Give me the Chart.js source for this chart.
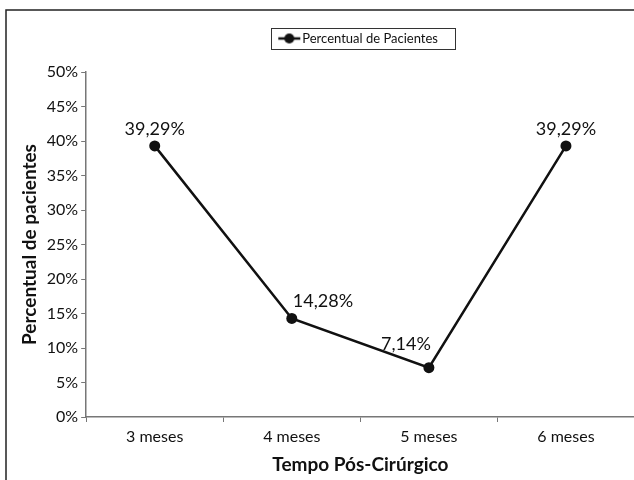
<!DOCTYPE html>
<html>
<head>
<meta charset="utf-8">
<script src="https://cdn.jsdelivr.net/npm/chart.js@4.4.1/dist/chart.umd.min.js"></script>
<style>
    html, body { margin: 0; background: #fff; overflow: hidden; }
    #wrap { position: absolute; left: 0; top: 0; width: 634px; height: 480px; overflow: hidden; }
</style>
</head>
<body>
<div id="wrap"><canvas id="myChart" width="640" height="480"></canvas></div>
<script>
const categories = ['3 meses', '4 meses', '5 meses', '6 meses'];
const percentValues = [39.29, 14.28, 7.14, 39.29];
const seriesName = 'Percentual de Pacientes';
const labelAlign = ['center', 'left', 'right', 'center']; // where the value labels sit

const FONT = 'Lato, "Open Sans", sans-serif';

// legend marker: short line with a dot in the middle
function legendMarker() {
    const c = document.createElement('canvas');
    c.width = 24; c.height = 12;
    const g = c.getContext('2d');
    g.strokeStyle = '#111';
    g.lineWidth = 2.5;
    g.beginPath(); g.moveTo(1, 6); g.lineTo(23, 6); g.stroke();
    g.fillStyle = '#111';
    g.beginPath(); g.arc(12, 6, 5, 0, Math.PI * 2); g.fill();
    return c;
}

const frame = {
    id: 'frame',
    beforeLayout(chart) {
        // extra room under the legend
        const lg = chart.legend;
        if (lg && !lg._gapPatched) {
            const fit = lg.fit;
            lg.fit = function() {
                fit.call(this);
                this.height += 17;
            };
            lg._gapPatched = true;
        }
    },
    beforeDraw(chart) {
        const ctx = chart.ctx;
        ctx.save();
        ctx.strokeStyle = '#222';
        ctx.lineWidth = 1.5;
        ctx.beginPath();
        ctx.moveTo(6, 480); ctx.lineTo(6, 10); ctx.lineTo(640, 10);
        ctx.stroke();
        ctx.restore();
    },
    afterDraw(chart) {
        // box around the legend
        const lg = chart.legend;
        if (!lg || !lg.legendHitBoxes.length) return;
        const hb = lg.legendHitBoxes[0];
        const ctx = chart.ctx;
        ctx.save();
        ctx.strokeStyle = '#333';
        ctx.lineWidth = 1;
        ctx.strokeRect(Math.round(hb.left - 12) + 0.5, Math.round(hb.top - 4) + 0.5, Math.round(hb.width + 29), Math.round(hb.height + 8));
        ctx.restore();
    }
};

const valueLabels = {
    id: 'valueLabels',
    afterDatasetsDraw(chart) {
        const ctx = chart.ctx;
        const meta = chart.getDatasetMeta(0);
        ctx.save();
        ctx.font = '18px ' + FONT;
        ctx.fillStyle = '#111';
        ctx.textBaseline = 'bottom';
        meta.data.forEach((pt, i) => {
            const txt = percentValues[i].toFixed(2).replace('.', ',') + '%';
            const a = labelAlign[i];
            let x = pt.x, y = pt.y - 8;
            if (a === 'left') x = pt.x + 1;
            if (a === 'right') { x = pt.x + 2; y = pt.y - 15; }
            ctx.textAlign = a;
            ctx.fillText(txt, x, y);
        });
        ctx.restore();
    }
};

window.myChart = new Chart(document.getElementById('myChart').getContext('2d'), {
    type: 'line',
    data: {
        labels: categories,
        datasets: [{
            label: seriesName,
            data: percentValues,
            borderColor: '#111',
            backgroundColor: '#111',
            borderWidth: 2.5,
            pointRadius: 5.5,
            pointBackgroundColor: '#111',
            pointBorderWidth: 0,
            pointStyle: 'circle',
            tension: 0,
            fill: false
        }]
    },
    options: {
        responsive: false,
        animation: false,
        layout: {
            padding: { left: 18, right: 0, top: 18, bottom: 4 }
        },
        plugins: {
            legend: {
                position: 'top',
                fullSize: false,
                labels: {
                    usePointStyle: true,
                    pointStyle: legendMarker(),
                    color: '#111',
                    font: { family: FONT, size: 13 },
                    padding: 14
                }
            },
            tooltip: { enabled: false }
        },
        scales: {
            x: {
                offset: true,
                grid: {
                    offset: true,
                    drawOnChartArea: false,
                    color: '#777',
                    tickLength: 5
                },
                border: { color: '#777', width: 1.5 },
                ticks: {
                    color: '#111',
                    font: { family: FONT, size: 16 },
                    padding: 5,
                    maxRotation: 0
                },
                title: {
                    display: true,
                    text: 'Tempo Pós-Cirúrgico',
                    color: '#111',
                    font: { family: FONT, size: 19, weight: 'bold' },
                    padding: { top: 2, bottom: 0 }
                }
            },
            y: {
                min: 0,
                max: 50,
                grid: {
                    drawOnChartArea: false,
                    color: '#777',
                    tickLength: 5
                },
                border: { color: '#777', width: 1.5 },
                ticks: {
                    stepSize: 5,
                    color: '#111',
                    font: { family: FONT, size: 16 },
                    padding: 3,
                    callback: v => v + '%'
                },
                title: {
                    display: true,
                    text: 'Percentual de pacientes',
                    color: '#111',
                    font: { family: FONT, size: 19, weight: 'bold' },
                    padding: { top: 0, bottom: 3 }
                }
            }
        }
    },
    plugins: [frame, valueLabels]
});
</script>
</body>
</html>
